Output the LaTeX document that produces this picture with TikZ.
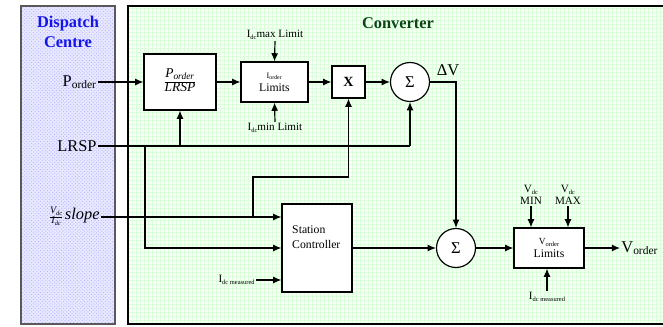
\documentclass[tikz,border=0pt]{standalone}
\usepackage{fontspec}
\setmainfont{Liberation Serif}
\usetikzlibrary{arrows.meta,patterns}

\definecolor{dcblue}{RGB}{20,20,235}
\definecolor{cvgreen}{RGB}{10,70,20}

% stacked fraction in text fonts
\newcommand{\txtfrac}[2]{\renewcommand{\arraystretch}{0.9}\begin{tabular}[c]{@{}c@{}}#1\\\hline#2\end{tabular}}
\newcommand{\subtx}[1]{\raisebox{-0.35ex}{\fontsize{5.5}{6}\selectfont #1}}

\tikzset{
  wire/.style={line width=1pt},
  sig/.style={wire, -{Latex[length=7pt,width=6pt]}},
  blk/.style={draw, fill=white, line width=1pt, inner sep=0pt, align=center},
  sumc/.style={draw, circle, fill=white, line width=1pt, inner sep=0pt,
    minimum size=1.17cm, font=\fontsize{14}{16}\selectfont},
  lbl/.style={inner sep=1pt, font=\fontsize{14}{16}\selectfont},
  sml/.style={inner sep=1pt, align=center, font=\fontsize{9.5}{10.5}\selectfont},
}

\begin{document}
\begin{tikzpicture}[x=0.03cm, y=-0.03cm]
  \useasboundingbox (0,0) rectangle (663,326);

  % Dispatch Centre panel
  \fill[blue!9] (21,6) rectangle (115,324);
  \fill[pattern=crosshatch dots, pattern color=blue!30] (21,6) rectangle (115,324);
  \draw[line width=1pt, gray!70!black] (21,6) rectangle (115,324);
  \node[align=center, font=\fontsize{14}{17}\selectfont\bfseries, text=dcblue] (dctitle) at (68,32) {Dispatch\\Centre};

  % Converter panel
  \fill[green!3] (128,6) rectangle (663,324);
  \draw[green!14, line width=0.2pt, step=0.12cm] (128,6) grid (663,324);
  \draw[line width=1pt] (663,6) -- (128,6) -- (128,324) -- (663,324);
  \node[font=\fontsize{14}{16}\selectfont\bfseries, text=cvgreen] (cvtitle) at (398,23) {Converter};

  % Inputs from dispatch
  \node[lbl, anchor=east] (porder) at (98,82) {P\textsubscript{order}};
  \node[lbl, anchor=east] (lrsp) at (98,146) {LRSP};
  \node[lbl, anchor=east] (slope) at (101,217)
    {{\fontsize{8.5}{9}\selectfont\itshape\txtfrac{V\subtx{dc}}{I\subtx{dc}}}\,\textit{slope}};

  % Power order path
  \node[blk, minimum width=2.16cm, minimum height=1.68cm, font=\fontsize{11.5}{13}\selectfont\itshape] (plrsp) at (180,82)
    {\txtfrac{P\textsubscript{order}}{LRSP}};
  \node[blk, minimum width=2.01cm, minimum height=1.2cm, font=\fontsize{10}{11}\selectfont] (ilim) at (274.5,82)
    {{\fontsize{7}{7.5}\selectfont I\textsubscript{order}}\\Limits};
  \node[blk, minimum width=0.99cm, minimum height=0.96cm, font=\fontsize{12}{14}\selectfont\bfseries] (mult) at (348.5,82) {X};
  \node[sumc] (sum1) at (410,82) {Σ};
  \node[lbl] (dv) at (448,70) {ΔV};

  \node[sml] (idcmax) at (275,35) {I\subtx{dc}max Limit};
  \node[sml] (idcmin) at (275,128) {I\subtx{dc}min Limit};

  % Station controller and voltage order path
  \node[blk, minimum width=2.1cm, minimum height=2.64cm] (sc) at (317,248) {};
  \node[anchor=west, align=left, inner sep=0pt, font=\fontsize{10}{12.5}\selectfont] (sctxt) at (292,237) {Station\\Controller};
  \node[sml, anchor=east] (idcm1) at (256,280) {I\subtx{dc measured}};
  \node[sumc] (sum2) at (456,248) {Σ};
  \node[blk, minimum width=2.1cm, minimum height=1.2cm, font=\fontsize{10}{11}\selectfont] (vlim) at (549,248)
    {{\fontsize{8}{9}\selectfont V\subtx{order}}\\Limits};
  \node[sml] (vmin) at (531,195) {V\subtx{dc}\\MIN};
  \node[sml] (vmax) at (568,195) {V\subtx{dc}\\MAX};
  \node[sml] (idcm2) at (547,297) {I\subtx{dc measured}};
  \node[lbl, anchor=west] (vout) at (620,248) {V\textsubscript{order}};

  % Junctions
  \coordinate (j1) at (145,146);
  \coordinate (j2) at (253,217);
  \coordinate (k) at (253,177);

  % Connectors
  \draw[sig] (porder.east) -- (plrsp.west);
  \draw[sig] (plrsp.east) -- (ilim.west);
  \draw[sig] (ilim.east) -- (mult.west);
  \draw[sig] (mult.east) -- (sum1.west);
  \draw[sig] (idcmax.south) -- (ilim.north);
  \draw[sig] (idcmin.north) -- (ilim.south);

  \draw[wire] (lrsp.east) -- (lrsp -| sum1);
  \draw[sig] (lrsp -| sum1) -- (sum1.south);
  \draw[sig] (lrsp -| plrsp) -- (plrsp.south);
  \draw[sig] (j1) |- (sc.west);

  \draw[sig] (slope.east) -- (sc.west |- slope);
  \draw[sig] (j2) -- (k) -- (k -| mult) -- (mult.south);
  \draw[sig] (idcm1.east) -- (sc.west |- idcm1);

  \draw[sig] (sum1.east) -- (sum1.east -| sum2) -- (sum2.north);
  \draw[sig] (sc.east) -- (sum2.west);
  \draw[sig] (sum2.east) -- (vlim.west);
  \draw[sig] (vmin.south) -- (vmin.south |- vlim.north);
  \draw[sig] (vmax.south) -- (vmax.south |- vlim.north);
  \draw[sig] (idcm2.north) -- (idcm2.north |- vlim.south);
  \draw[sig] (vlim.east) -- (vout.west);
\end{tikzpicture}
\end{document}
